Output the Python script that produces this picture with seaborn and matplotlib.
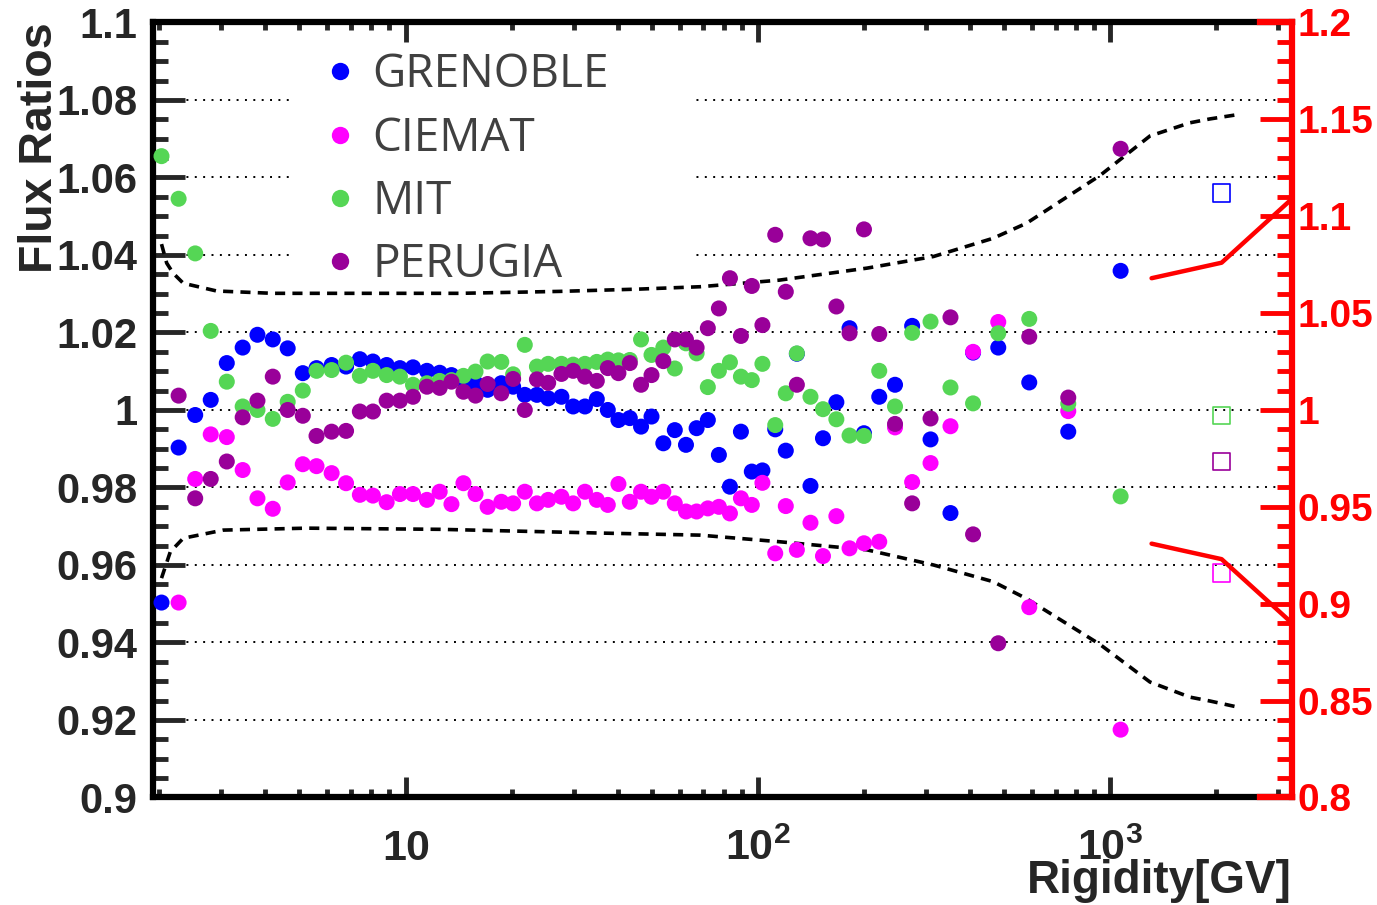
import numpy as np
import pandas as pd
import matplotlib
matplotlib.use("Agg")
import matplotlib.pyplot as plt
from matplotlib.ticker import (MultipleLocator, FixedLocator, FixedFormatter,
                               LogLocator, NullFormatter, FuncFormatter)
from matplotlib.lines import Line2D
import seaborn as sns

# ---------------- data ----------------
rigidity = [2.03, 2.27, 2.53, 2.80, 3.11, 3.45, 3.80, 4.20, 4.63, 5.11,
            5.59, 6.17, 6.78, 7.42, 8.08, 8.84, 9.64, 10.5, 11.5, 12.5,
            13.5, 14.6, 15.8, 17.1, 18.7, 20.2, 21.8, 23.6, 25.4, 27.7,
            29.9, 32.3, 34.9, 37.5, 40.2, 43.3, 46.6, 49.9, 53.9, 58.1,
            62.5, 67.0, 72.1, 77.5, 83.3, 89.5, 96.1, 103, 112, 120,
            129, 141, 153, 167, 182, 200, 221, 245, 274, 309,
            352, 408, 481, 589, 760, 1070]

grenoble = [0.9503, 0.9903, 0.9987, 1.0026, 1.0121, 1.0161, 1.0194, 1.0182, 1.0159, 1.0095,
            1.0108, 1.0116, 1.0112, 1.0131, 1.0125, 1.0116, 1.0108, 1.0110, 1.0101, 1.0096,
            1.0090, 1.0077, 1.0069, 1.0052, 1.0069, 1.0060, 1.0039, 1.0039, 1.0030, 1.0034,
            1.0009, 1.0009, 1.0028, 1.0000, 0.9974, 0.9979, 0.9957, 0.9983, 0.9914, 0.9948,
            0.9910, 0.9953, 0.9974, 0.9884, 0.9802, 0.9944, 0.9841, 0.9844, 0.9950, 0.9895,
            1.0145, 0.9804, 0.9927, 1.0020, 1.0211, 0.9940, 1.0034, 1.0065, 1.0217, 0.9924,
            0.9734, 1.0148, 1.0161, 1.0071, 0.9944, 1.0359]

ciemat = [np.nan, 0.9503, 0.9822, 0.9937, 0.9930, 0.9845, 0.9772, 0.9745, 0.9813, 0.9860,
          0.9855, 0.9837, 0.9811, 0.9781, 0.9779, 0.9762, 0.9783, 0.9783, 0.9768, 0.9789,
          0.9757, 0.9811, 0.9783, 0.9750, 0.9763, 0.9759, 0.9789, 0.9759, 0.9768, 0.9776,
          0.9759, 0.9789, 0.9768, 0.9755, 0.9809, 0.9763, 0.9789, 0.9776, 0.9789, 0.9759,
          0.9738, 0.9738, 0.9746, 0.9750, 0.9733, 0.9772, 0.9755, 0.9812, 0.9630, 0.9752,
          0.9639, 0.9709, 0.9623, 0.9726, 0.9643, 0.9656, 0.9660, 0.9955, 0.9814, 0.9863,
          0.9958, 1.0150, 1.0227, 0.9491, 0.9997, 0.9175]

mit = [1.0655, 1.0545, 1.0404, 1.0204, 1.0073, 1.0009, 1.0000, 0.9977, 1.0021, 1.0050,
       1.0101, 1.0103, 1.0122, 1.0088, 1.0101, 1.0090, 1.0086, 1.0065, 1.0069, 1.0075,
       1.0077, 1.0088, 1.0099, 1.0125, 1.0124, 1.0092, 1.0168, 1.0112, 1.0119, 1.0119,
       1.0117, 1.0119, 1.0124, 1.0130, 1.0128, 1.0129, 1.0182, 1.0142, 1.0161, 1.0107,
       1.0172, 1.0146, 1.0059, 1.0101, 1.0123, 1.0086, 1.0077, 1.0119, 0.9961, 1.0043,
       1.0146, 1.0034, 1.0002, 0.9976, 0.9934, 0.9933, 1.0101, 1.0009, 1.0199, 1.0228,
       1.0058, 1.0017, 1.0198, 1.0235, 1.0016, 0.9777]

perugia = [np.nan, 1.0037, 0.9772, 0.9822, 0.9867, 0.9981, 1.0024, 1.0086, 1.0000, 0.9985,
           0.9933, 0.9944, 0.9946, 0.9996, 0.9996, 1.0024, 1.0024, 1.0034, 1.0060, 1.0057,
           1.0073, 1.0047, 1.0037, 1.0067, 1.0043, 1.0080, 1.0000, 1.0079, 1.0070, 1.0093,
           1.0101, 1.0086, 1.0075, 1.0108, 1.0095, 1.0121, 1.0065, 1.0090, 1.0126, 1.0182,
           1.0182, 1.0161, 1.0211, 1.0262, 1.0340, 1.0191, 1.0320, 1.0219, 1.0452, 1.0305,
           1.0065, 1.0443, 1.0440, 1.0267, 1.0198, 1.0466, 1.0196, 0.9964, 0.9759, 0.9978,
           1.0239, 0.9679, 0.9398, 1.0189, 1.0032, 1.0674]

groups = ["GRENOBLE", "CIEMAT", "MIT", "PERUGIA"]
colors = ["#0000ff", "#ff00ff", "#55d655", "#990099"]

# open squares at the highest rigidity point
square_rigidity = [2070, 2070, 2070, 2070]
square_values = [1.0560, 0.9579, 0.9986, 0.9867]   # GRENOBLE, CIEMAT, MIT, PERUGIA

# dashed band (left axis)
band_upper_r = [2.03, 2.10, 2.19, 2.34, 2.91, 4.20, 7.42, 14.3, 27.4, 46.3,
                68.5, 115, 204, 315, 465, 579, 935, 1296, 1682, 1917, 2257]
band_upper = [1.0428, 1.0379, 1.0353, 1.0327, 1.0307, 1.0301, 1.0301, 1.0301, 1.0306, 1.0312,
              1.0318, 1.0335, 1.0366, 1.0396, 1.0443, 1.0482, 1.0605, 1.0707, 1.0741, 1.0751,
              1.0761]
band_lower_r = [2.03, 2.15, 2.34, 3.04, 5.24, 12.5, 37.2, 68.5, 115, 204,
                315, 465, 579, 935, 1296, 1682, 1917, 2281]
band_lower = [0.9566, 0.9634, 0.9669, 0.9690, 0.9695, 0.9692, 0.9682, 0.9677, 0.9660, 0.9639,
              0.9600, 0.9557, 0.9513, 0.9395, 0.9298, 0.9259, 0.9249, 0.9234]

# red lines (right axis)
red_r = [1310, 2070, 3280]
red_upper = [1.068, 1.076, 1.109]
red_lower = [0.931, 0.923, 0.890]

# axis ticks
x_major_ticks = [10, 100, 1000]
x_tick_labels = [r"$10$", r"$10^{2}$", r"$10^{3}$"]

# ---------------- style ----------------
sns.set_style("white")
plt.rcParams["font.family"] = ["Liberation Sans", "DejaVu Sans"]
plt.rcParams["font.weight"] = "bold"
plt.rcParams["mathtext.fontset"] = "custom"
plt.rcParams["mathtext.rm"] = "Liberation Sans:bold"
plt.rcParams["mathtext.it"] = "Liberation Sans:bold"
plt.rcParams["mathtext.bf"] = "Liberation Sans:bold"
plt.rcParams["mathtext.default"] = "rm"

fig = plt.figure(figsize=(13.77, 9.05), dpi=100)
ax = fig.add_axes([0.1111, 0.1188, 0.8272, 0.8564])
ax.set_xscale("log")
ax.set_xlim(1.92, 3280)
ax.set_ylim(0.9, 1.1)

df = pd.DataFrame({
    "rigidity": rigidity * 4,
    "ratio": grenoble + ciemat + mit + perugia,
    "group": sum([[g] * len(rigidity) for g in groups], []),
}).dropna()

sns.scatterplot(data=df, x="rigidity", y="ratio", hue="group", hue_order=groups,
                palette=dict(zip(groups, colors)), s=133, linewidth=0,
                legend=False, ax=ax, zorder=4)

dash = (0, (2.8, 2.0))
sns.lineplot(x=band_upper_r, y=band_upper, ax=ax, color="black", lw=2.6,
             linestyle=dash, sort=False, estimator=None, zorder=3)
sns.lineplot(x=band_lower_r, y=band_lower, ax=ax, color="black", lw=2.6,
             linestyle=dash, sort=False, estimator=None, zorder=3)

ax.scatter(square_rigidity, square_values, marker="s", s=160,
           facecolors="none", edgecolors=colors, linewidths=1.2, zorder=4)

# ---------------- left / bottom axis styling ----------------
for s in ["left", "top", "bottom"]:
    ax.spines[s].set_linewidth(4.5)
    ax.spines[s].set_color("black")
ax.spines["right"].set_visible(False)

ax.xaxis.set_major_locator(FixedLocator(x_major_ticks))
ax.xaxis.set_major_formatter(FixedFormatter(x_tick_labels))
ax.xaxis.set_minor_locator(LogLocator(base=10, subs=np.arange(2, 10), numticks=30))
ax.xaxis.set_minor_formatter(NullFormatter())
ax.tick_params(axis="x", which="major", direction="in", length=14.5, width=3.5,
               top=True, bottom=True, labelsize=31, pad=45)
ax.tick_params(axis="x", which="minor", direction="in", length=6, width=3.5,
               top=True, bottom=True)
for t in ax.xaxis.get_major_ticks():
    t.label1.set_verticalalignment("baseline")

ax.yaxis.set_major_locator(MultipleLocator(0.02))
ax.yaxis.set_minor_locator(MultipleLocator(0.005))
ax.yaxis.set_major_formatter(FuncFormatter(lambda v, p: f"{round(v, 3):g}"))
ax.tick_params(axis="y", which="major", direction="in", length=23, width=3.5,
               left=True, right=False, labelsize=30, pad=11)
ax.tick_params(axis="y", which="minor", direction="in", length=11, width=3.5,
               left=True, right=False)

ax.grid(False)
ax.grid(axis="y", which="major", color="black", lw=1.4, linestyle=(0, (1, 3.3)))
ax.set_axisbelow(True)

ax.set_xlabel("Rigidity[GV]", fontsize=33, fontweight="bold", ha="right", va="baseline")
ax.xaxis.set_label_coords(1.0, -0.123)
ax.set_ylabel("Flux Ratios", fontsize=33.5, fontweight="bold", loc="top")
ax.yaxis.set_label_coords(-0.080, 1.0)

# ---------------- legend ----------------
handles = [Line2D([0], [0], marker="o", linestyle="none", markerfacecolor=c,
                  markeredgewidth=0, markersize=12.5) for c in colors]
leg = ax.legend(handles, groups, loc="upper left", bbox_to_anchor=(0.12, 0.9675, 0.356, 0.0),
                mode="expand", borderaxespad=0, borderpad=0.1, handlelength=2.0,
                handletextpad=-0.3, labelspacing=0.38, frameon=True, fancybox=False,
                framealpha=1, facecolor="white", edgecolor="none",
                prop={"family": "Open Sans", "weight": "normal", "size": 33},
                labelcolor="#404040")
leg.set_zorder(2.5)   # above the dotted grid, below the dashed band and points

# ---------------- right (red) axis ----------------
ax2 = ax.twinx()
ax2.set_ylim(0.8, 1.2)
sns.lineplot(x=red_r, y=red_upper, ax=ax2, color="red", lw=3.2, sort=False, estimator=None)
sns.lineplot(x=red_r, y=red_lower, ax=ax2, color="red", lw=3.2, sort=False, estimator=None)
ax2.set_ylim(0.8, 1.2)
ax2.set_xlim(1.92, 3280)
ax2.spines["left"].set_visible(False)
for s in ["top", "bottom"]:
    ax2.spines[s].set_color("red")
    ax2.spines[s].set_linewidth(4.5)
    ax2.spines[s].set_bounds(2660, 3280)
ax2.spines["right"].set_color("red")
ax2.spines["right"].set_linewidth(4.5)
ax2.yaxis.set_major_locator(MultipleLocator(0.05))
ax2.yaxis.set_minor_locator(MultipleLocator(0.01))
ax2.yaxis.set_major_formatter(FuncFormatter(lambda v, p: f"{round(v, 3):g}"))
ax2.tick_params(axis="y", which="major", direction="in", length=23, width=3.5,
                color="red", labelcolor="red", labelsize=28, pad=4)
ax2.tick_params(axis="y", which="minor", direction="in", length=11, width=3.5,
                color="red")
ax2.set_ylabel("")
ax2.grid(False)

fig.savefig("out.png", dpi=100, facecolor="white")
